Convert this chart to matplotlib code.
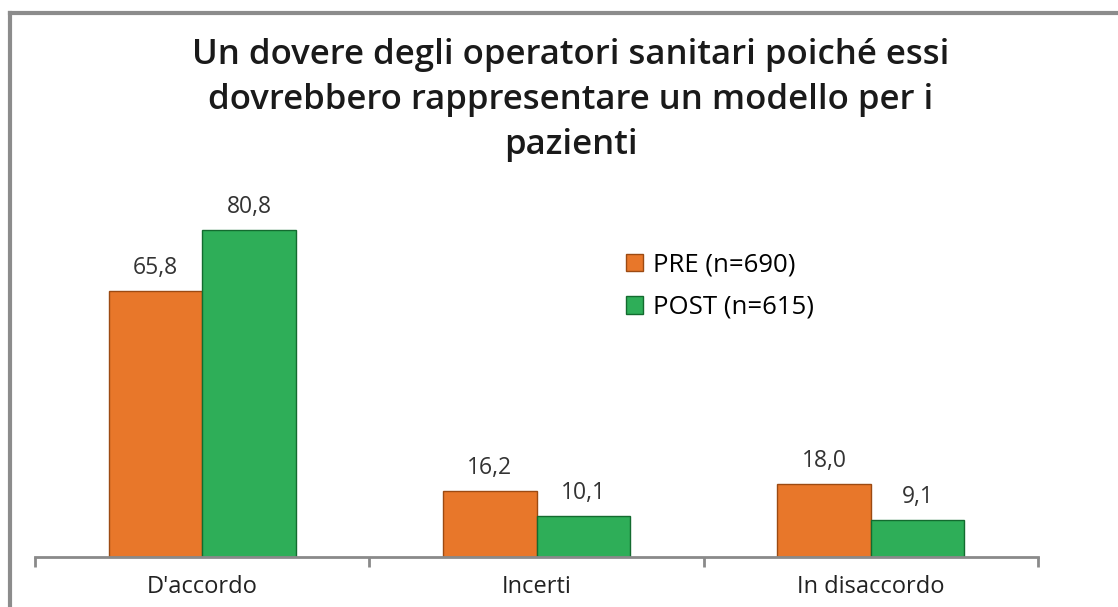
import numpy as np
import matplotlib.pyplot as plt
from matplotlib.lines import Line2D

plt.rcParams.update({
    "font.family": ["Open Sans", "DejaVu Sans"],
})

categories = ["D'accordo", "Incerti", "In disaccordo"]
pre_values = [65.8, 16.2, 18.0]
post_values = [80.8, 10.1, 9.1]
series_labels = ["PRE (n=690)", "POST (n=615)"]
title = "Un dovere degli operatori sanitari poiché essi\ndovrebbero rappresentare un modello per i\npazienti"

W, H = 1118, 607
fig = plt.figure(figsize=(W / 100, H / 100), dpi=100)
ax = fig.add_axes([35 / W, 50 / H, (1038 - 35) / W, (557 - 193) / H])

x = np.arange(len(categories))
bw = 0.28
orange = "#E8772A"
green = "#2EAE58"
b1 = ax.bar(x - bw / 2, pre_values, bw, color=orange, edgecolor="#9c4a12", linewidth=1.0, label=series_labels[0])
b2 = ax.bar(x + bw / 2, post_values, bw, color=green, edgecolor="#136b2f", linewidth=1.0, label=series_labels[1])

for bars, vals in [(b1, pre_values), (b2, post_values)]:
    for rect, v in zip(bars, vals):
        ax.text(rect.get_x() + rect.get_width() / 2, v + 2.8, f"{v:.1f}".replace(".", ","),
                ha="center", va="bottom", fontsize=16.5, color="#333333")

ax.set_xlim(-0.5, 2.5)
ax.set_ylim(0, 90)
ax.set_yticks([])
for s in ["left", "right", "top"]:
    ax.spines[s].set_visible(False)
ax.spines["bottom"].set_color("#8a8a8a")
ax.spines["bottom"].set_linewidth(2)
ax.set_xticks([-0.5, 0.5, 1.5, 2.5])
ax.set_xticklabels([])
ax.set_xticks(x, minor=True)
ax.set_xticklabels(categories, minor=True, fontsize=17, color="#222222")
ax.tick_params(axis="x", which="major", length=7, width=2, color="#8a8a8a", direction="out")
ax.tick_params(axis="x", which="minor", length=0, pad=13)

fig.text(571 / W, 1 - 100 / H, title, ha="center", va="center", fontsize=25,
         fontweight="semibold", color="#1a1a1a", linespacing=1.42)

ax.legend(loc="upper left", bbox_to_anchor=(0.566, 0.9), frameon=False, fontsize=18.5,
          handlelength=0.65, handleheight=0.65, handletextpad=0.4, labelspacing=0.68)

# outer chart frame (only left and top edges visible)
fig.add_artist(Line2D([10 / W, 10 / W], [1 - 13 / H, 0], color="#8c8c8c", lw=3))
fig.add_artist(Line2D([10 / W, 1], [1 - 13 / H, 1 - 13 / H], color="#8c8c8c", lw=3))

fig.savefig("out.png", dpi=100)
